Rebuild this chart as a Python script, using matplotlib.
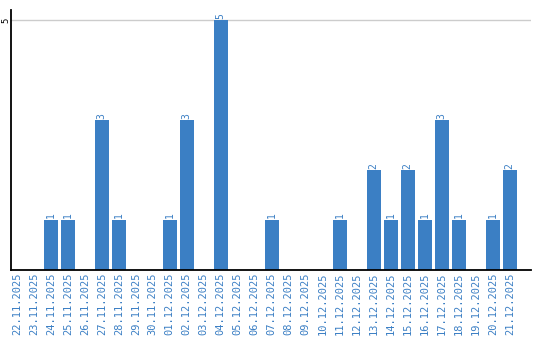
import matplotlib
matplotlib.use("Agg")
import matplotlib.pyplot as plt

# ---------------- Data ----------------
dates = ["22.11.2025", "23.11.2025", "24.11.2025", "25.11.2025", "26.11.2025",
         "27.11.2025", "28.11.2025", "29.11.2025", "30.11.2025", "01.12.2025",
         "02.12.2025", "03.12.2025", "04.12.2025", "05.12.2025", "06.12.2025",
         "07.12.2025", "08.12.2025", "09.12.2025", "10.12.2025", "11.12.2025",
         "12.12.2025", "13.12.2025", "14.12.2025", "15.12.2025", "16.12.2025",
         "17.12.2025", "18.12.2025", "19.12.2025", "20.12.2025", "21.12.2025"]
counts = [0, 0, 1, 1, 0, 3, 1, 0, 0, 1,
          3, 0, 5, 0, 0, 1, 0, 0, 0, 1,
          0, 2, 1, 2, 1, 3, 1, 0, 1, 2]
y_ticks = [5]

blue = "#3b7fc4"

fig = plt.figure(figsize=(5.4, 3.4), dpi=100)
ax = fig.add_axes([11 / 540, 70 / 340, 520 / 540, 260 / 340])

x = list(range(len(dates)))
ax.bar(x, counts, width=0.8, color=blue, zorder=2)

# value labels above non-zero bars
for xi, c in zip(x, counts):
    if c > 0:
        ax.text(xi, c + 0.03, str(c), rotation=90, ha="center", va="bottom",
                fontsize=7, color=blue, family="DejaVu Sans Mono")

ax.set_xlim(-0.34, 30.25)
ax.set_ylim(0, 5.2)

ax.set_xticks(x)
ax.set_xticklabels(dates, rotation=90, fontsize=7.5, color=blue,
                   family="DejaVu Sans Mono")
ax.set_yticks(y_ticks)
ax.set_yticklabels([str(v) for v in y_ticks], rotation=90, fontsize=6.5,
                   va="center", family="DejaVu Sans Mono")
ax.tick_params(axis="x", length=0, pad=2)
ax.tick_params(axis="y", length=0, pad=0.5)

ax.grid(axis="y", color="#cccccc", linewidth=1, zorder=0)
for s in ["top", "right"]:
    ax.spines[s].set_visible(False)
for s in ["left", "bottom"]:
    ax.spines[s].set_linewidth(1.3)
    ax.spines[s].set_color("black")

fig.savefig("out.png", dpi=100)
